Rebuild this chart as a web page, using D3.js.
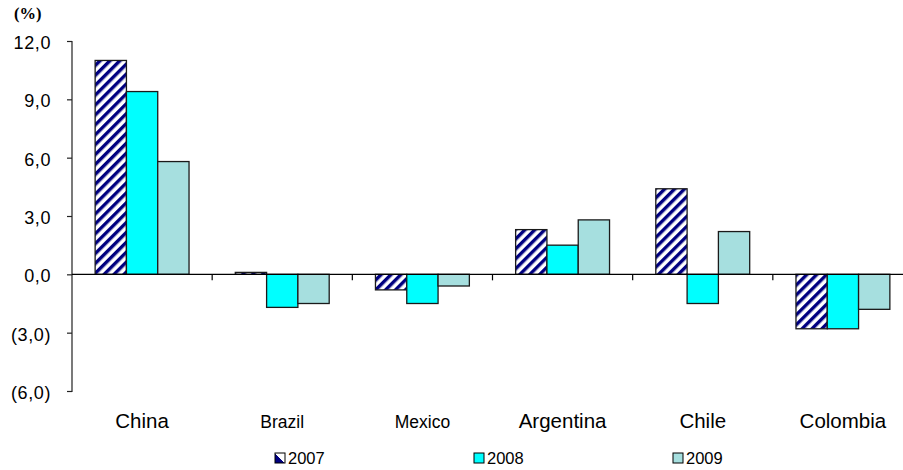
<!DOCTYPE html>
<html><head><meta charset="utf-8">
<script src="https://cdn.jsdelivr.net/npm/d3@7"></script>
<style>body{margin:0;background:#fff}svg{display:block}</style>
</head><body>
<svg id="c" width="903" height="470"></svg>
<script>
const categories = ["China","Brazil","Mexico","Argentina","Chile","Colombia"];
const seriesNames = ["2007","2008","2009"];
const values2007 = [11.0, 0.1, -0.8, 2.3, 4.4, -2.8];
const values2008 = [9.4, -1.7, -1.5, 1.5, -1.5, -2.8];
const values2009 = [5.8, -1.5, -0.6, 2.8, 2.2, -1.8];
const yTicks = [-6, -3, 0, 3, 6, 9, 12];
const yTickLabels = ["(6,0)","(3,0)","0,0","3,0","6,0","9,0","12,0"];
const series = [values2007, values2008, values2009];
const fills = ["url(#hatch)", "#00FFFF", "#A6DFDF"];
const FONT = "'Liberation Sans', Arial, sans-serif";

const svg = d3.select("#c");
const defs = svg.append("defs");
const pat = defs.append("pattern").attr("id","hatch").attr("patternUnits","userSpaceOnUse")
  .attr("width",7).attr("height",7).attr("patternTransform","rotate(45)");
pat.append("rect").attr("width",7).attr("height",7).attr("fill","#fff");
pat.append("rect").attr("width",3.4).attr("height",7).attr("fill","#000080");
const lp = defs.append("linearGradient").attr("id","legHatch").attr("x1","0").attr("y1","1").attr("x2","1").attr("y2","0");
lp.append("stop").attr("offset","0").attr("stop-color","#000080");
lp.append("stop").attr("offset","0.5").attr("stop-color","#000080");
lp.append("stop").attr("offset","0.5").attr("stop-color","#fff");
lp.append("stop").attr("offset","1").attr("stop-color","#fff");

const x0 = d3.scaleBand().domain(categories).range([72, 913]).padding(0);
const y = d3.scaleLinear().domain([-6, 12]).range([391, 41]);
const barW = 31.3;
const x1 = d3.scaleBand().domain(seriesNames).range([0, barW*3]).padding(0);
const groupOff = (x0.bandwidth() - barW*3) / 2;

// bars
series.forEach((vals, si) => {
  svg.append("g").selectAll("rect").data(vals).join("rect")
    .attr("x", (d,i) => x0(categories[i]) + groupOff + x1(seriesNames[si]))
    .attr("y", d => y(Math.max(0,d)))
    .attr("width", x1.bandwidth())
    .attr("height", d => Math.abs(y(d) - y(0)))
    .attr("fill", fills[si])
    .attr("stroke", "#1a1a1a").attr("stroke-width", 1.3);
});

// y axis
const yAxis = d3.axisLeft(y).tickValues(yTicks).tickSize(5)
  .tickFormat(d => yTickLabels[yTicks.indexOf(d)]);
const gy = svg.append("g").attr("transform","translate(72,0)").call(yAxis);
gy.select(".domain").attr("stroke","#222").attr("stroke-width",1.2).attr("d","M-5,41.5H0V391.5H-5");
gy.selectAll(".tick line").attr("stroke","#222").attr("stroke-width",1.2);
gy.selectAll(".tick text").attr("font-family",FONT).attr("font-size",18)
  .attr("letter-spacing","0.6px").attr("fill","#000").attr("x",-21).attr("dy","0.42em");

// zero line with category ticks
const gx = svg.append("g").attr("transform",`translate(0,${y(0)})`);
gx.append("line").attr("x1",72).attr("x2",903).attr("stroke","#000").attr("stroke-width",1.2);
gx.selectAll("line.t").data(categories.slice(1)).join("line").attr("class","t")
  .attr("x1", d => x0(d)).attr("x2", d => x0(d)).attr("y1",0).attr("y2",6)
  .attr("stroke","#000").attr("stroke-width",1.2);

// category labels
svg.append("g").selectAll("text").data(categories).join("text")
  .attr("x", d => x0(d) + x0.bandwidth()/2)
  .attr("y", 428)
  .attr("text-anchor","middle")
  .attr("font-family",FONT)
  .attr("font-size", d => (d==="Brazil"||d==="Mexico") ? 17.5 : 20.5)
  .text(d => d);

// unit label
svg.append("text").attr("x",14).attr("y",19).attr("font-family","'Liberation Serif', 'Times New Roman', serif")
  .attr("font-weight","bold").attr("font-size",16.5).text("(%)");

// legend
const legX = [275, 474, 673];
const leg = svg.append("g").selectAll("g").data(seriesNames).join("g")
  .attr("transform",(d,i)=>`translate(${legX[i]},453)`);
leg.append("rect").attr("width",10).attr("height",10).attr("fill",(d,i)=> i===0 ? "url(#legHatch)" : fills[i])
  .attr("stroke","#000").attr("stroke-width",1);
leg.append("text").attr("x",13).attr("y",11).attr("font-family",FONT)
  .attr("font-size",16.5).text(d=>d);
</script>
</body></html>
